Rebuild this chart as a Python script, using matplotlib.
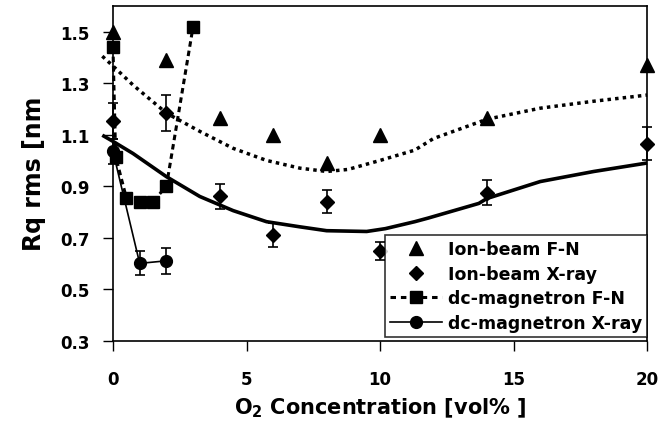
import matplotlib
matplotlib.use("Agg")
import matplotlib.pyplot as plt
from matplotlib.lines import Line2D

plt.rcParams['font.family'] = ['DejaVu Sans']
plt.rcParams['font.weight'] = 'bold'
plt.rcParams['mathtext.fontset'] = 'dejavusans'
plt.rcParams['mathtext.default'] = 'bf'

# Ion-beam, F-N
ib_fn_x = [0, 2, 4, 6, 8, 10, 14, 20]
ib_fn_y = [1.50, 1.39, 1.165, 1.10, 0.99, 1.10, 1.165, 1.37]

# Ion-beam, X-ray (with error bars)
ib_xr_x = [0, 2, 4, 6, 8, 10, 14, 20]
ib_xr_y = [1.155, 1.185, 0.86, 0.71, 0.84, 0.65, 0.875, 1.065]
ib_xr_err = [0.07, 0.07, 0.05, 0.045, 0.045, 0.035, 0.05, 0.065]

# dc-magnetron, F-N
dc_fn_x = [0, 0.1, 0.5, 1.0, 1.5, 2, 3]
dc_fn_y = [1.44, 1.015, 0.855, 0.84, 0.84, 0.90, 1.52]

# dc-magnetron, X-ray (with error bars)
dc_xr_x = [0, 1, 2]
dc_xr_y = [1.035, 0.60, 0.61]
dc_xr_err = [0.05, 0.047, 0.05]

# trend line through ion-beam F-N (dotted)
trend_fn_x = [-0.4, 0, 0.75, 2, 3.25, 4.5, 5.75, 7, 8, 8.8, 10, 11.3, 12, 14, 16, 18, 20]
trend_fn_y = [1.405, 1.367, 1.293, 1.184, 1.113, 1.047, 1.0, 0.97, 0.957, 0.965, 1.0,
              1.04, 1.085, 1.16, 1.203, 1.23, 1.254]

# trend line through ion-beam X-ray (solid)
trend_xr_x = [-0.4, 0, 0.75, 2, 3.25, 4.5, 5.75, 7, 8, 9.5, 10.2, 11.3, 11.8, 13.7, 14, 16, 18, 20]
trend_xr_y = [1.098, 1.074, 1.027, 0.937, 0.86, 0.805, 0.762, 0.742, 0.727, 0.724, 0.735,
              0.762, 0.776, 0.833, 0.852, 0.918, 0.957, 0.99]

labels = ['Ion-beam F-N', 'Ion-beam X-ray', 'dc-magnetron F-N', 'dc-magnetron X-ray']

fig = plt.figure(figsize=(6.63, 4.27), dpi=100)
ax = fig.add_axes([0.1704, 0.2, 0.8056, 0.7836])

ax.plot(trend_fn_x, trend_fn_y, color='black', lw=2.5, linestyle=(0, (1, 1.2)),
        clip_on=False, zorder=2)
ax.plot(trend_xr_x, trend_xr_y, color='black', lw=2.6, solid_capstyle='butt',
        clip_on=False, zorder=2)

ax.plot(ib_fn_x, ib_fn_y, linestyle='none', marker='^', ms=10, color='black',
        clip_on=False, zorder=4)
ax.errorbar(ib_xr_x, ib_xr_y, yerr=ib_xr_err, fmt='D', ms=7.5, color='black',
            ecolor='black', elinewidth=1.2, capsize=3.6, capthick=1.2,
            clip_on=False, zorder=4)
ax.plot(dc_fn_x, dc_fn_y, linestyle=(0, (1.8, 1.3)), lw=2.2, marker='s', ms=8.5,
        color='black', clip_on=False, zorder=3)
ax.errorbar(dc_xr_x, dc_xr_y, yerr=dc_xr_err, fmt='-o', ms=8.5, lw=1.2, color='black',
            ecolor='black', elinewidth=1.2, capsize=3.6, capthick=1.2,
            clip_on=False, zorder=4)

ax.set_xlim(0, 20)
ax.set_ylim(0.3, 1.6)
ax.set_xticks([0, 5, 10, 15, 20])
ax.set_yticks([0.3, 0.5, 0.7, 0.9, 1.1, 1.3, 1.5])
ax.set_yticklabels(['0.3', '0.5', '0.7', '0.9', '1.1', '1.3', '1.5'])
ax.tick_params(axis='both', direction='out', length=7, width=1, labelsize=12)
ax.tick_params(axis='x', pad=14)
ax.tick_params(axis='y', pad=10)
for s in ax.spines.values():
    s.set_linewidth(1.2)

ax.set_xlabel(r'O$_{2}$ Concentration [vol% ]', fontsize=15, fontweight='bold', labelpad=6)
ax.set_ylabel('Rq rms [nm', fontsize=17, fontweight='bold', labelpad=10)

# legend shows markers only, no error bars
handles = [
    Line2D([], [], linestyle='none', marker='^', ms=10, color='black'),
    Line2D([], [], linestyle='none', marker='D', ms=7.5, color='black'),
    Line2D([], [], linestyle=(0, (1.8, 1.6)), lw=2.2, marker='s', ms=8.5, color='black'),
    Line2D([], [], linestyle='-', lw=1.2, marker='o', ms=8.5, color='black'),
]
leg = ax.legend(handles, labels, loc='lower right', bbox_to_anchor=(1.0, 0.01),
                borderaxespad=0, fontsize=12.5, frameon=True, fancybox=False,
                edgecolor='black', handlelength=3.0, handletextpad=0.3,
                labelspacing=0.38, borderpad=0.3)
leg.get_frame().set_linewidth(1.2)

fig.savefig('out.png', dpi=100)
